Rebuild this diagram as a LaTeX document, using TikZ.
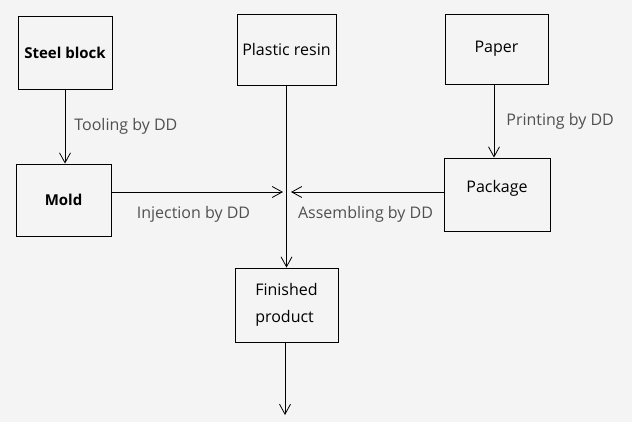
\documentclass[tikz,border=0pt]{standalone}
\usepackage{fontspec}
\setmainfont{Open Sans}
\usetikzlibrary{arrows.meta,positioning,calc}
\definecolor{bgcol}{RGB}{244,244,244}
\definecolor{lblcol}{RGB}{80,80,80}
\begin{document}
\begin{tikzpicture}[x=1pt,y=-1pt,line width=0.8pt,
  box/.style={draw, rectangle, inner sep=2pt, align=left, font=\fontsize{16}{27}\selectfont},
  flow/.style={-{Straight Barb[length=10pt,width=11pt]}},
  lbl/.style={text=lblcol, font=\fontsize{16}{18}\selectfont, inner sep=0pt}]
\fill[bgcol] (0,0) rectangle (632,422);
\useasboundingbox (0,0) rectangle (632,422);
\node (steel) at (65,52.5) [box, minimum width=94pt, minimum height=73pt, font=\fontsize{15}{17}\bfseries] {Steel block};
\node (resin) at (286.5,49.5) [box, minimum width=99pt, minimum height=71pt] {Plastic resin};
\node (paper) at (496.5,49) [box, minimum width=103pt, minimum height=70pt] {Paper};
\node (mold) at (63.5,200) [box, minimum width=95pt, minimum height=72pt, font=\fontsize{15}{17}\bfseries] {Mold};
\node (pack) at (497,194.5) [box, minimum width=106pt, minimum height=73pt, text depth=16pt] {Package};
\node (fin) at (286.5,305) [box, minimum width=103pt, minimum height=74pt] {Finished\\product};
\coordinate (jn) at (287,192);
\coordinate (out) at (285,415);
\draw[flow] (steel) -- node [lbl, right=9pt, anchor=west] {Tooling by DD} (mold.north -| steel);
\draw[flow] (paper.south -| 494,0) -- node [lbl, right=12pt, anchor=west] {Printing by DD} (pack.north -| 494,0);
\draw[flow] (resin) -- (fin);
\draw[flow, shorten >=4pt] (mold.east |- jn) -- (jn);
\draw[flow, shorten >=4pt] (pack.west |- jn) -- (jn);
\node [lbl] at (193.5,214) {Injection by DD};
\node [lbl] at (365.5,214) {Assembling by DD};
\draw[flow] (fin.south -| out) -- (out);
\end{tikzpicture}
\end{document}
